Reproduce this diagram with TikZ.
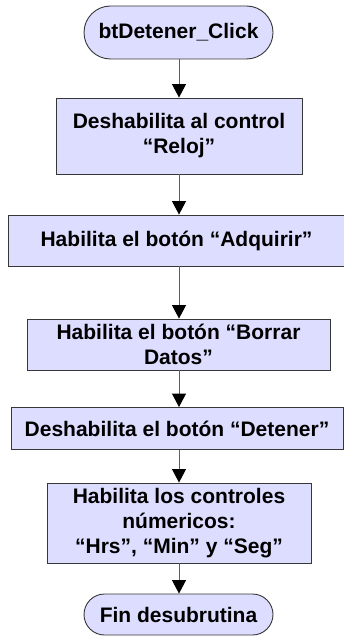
\documentclass[tikz,border=0pt]{standalone}
\usepackage{fontspec}
\setmainfont{Liberation Sans}
\usetikzlibrary{arrows.meta}
\definecolor{boxfill}{RGB}{221,221,255}
\definecolor{linegray}{RGB}{95,95,95}
\definecolor{bordergray}{RGB}{55,55,55}
\tikzset{
  procbox/.style={draw=bordergray, line width=0.9pt, fill=boxfill, rectangle, align=center, inner sep=0pt,
    font=\fontsize{21}{25}\selectfont\bfseries},
  termbox/.style={procbox},
  flowarrow/.style={draw=linegray, line width=1pt, -{Triangle[length=13.5pt,width=14pt,color=black]}}
}
\begin{document}
\begin{tikzpicture}[x=1pt,y=-1pt]
\useasboundingbox (0,0) rectangle (344,636);
\coordinate (spine) at (179,0);
\node[termbox, minimum width=189pt, minimum height=53pt, rounded corners=26.5pt] (start) at (178.5,32.5) {btDetener\_Click};
\node[procbox, minimum width=246pt, minimum height=76pt] (b1) at (179,136) {Deshabilita al control\\“Reloj”};
\node[procbox, minimum width=336pt, minimum height=51pt] (b2) at (176.5,240.5) {Habilita el botón “Adquirir”};
\node[procbox, minimum width=303pt, minimum height=51pt] (b3) at (178.5,344.5) {Habilita el botón “Borrar\\Datos”};
\node[procbox, minimum width=332pt, minimum height=42pt] (b4) at (177,428.5) {Deshabilita el botón “Detener”};
\node[procbox, minimum width=264pt, minimum height=80pt] (b5) at (179,523) {Habilita los controles\\númericos:\\“Hrs”, “Min” y “Seg”};
\node[termbox, minimum width=189pt, minimum height=41pt, rounded corners=20.5pt] (end) at (178.5,614.5) {Fin desubrutina};
\draw[flowarrow] (start.south -| spine) -- (b1.north -| spine);
\draw[flowarrow] (b1.south -| spine) -- (b2.north -| spine);
\draw[flowarrow] (b2.south -| spine) -- (b3.north -| spine);
\draw[flowarrow] (b3.south -| spine) -- (b4.north -| spine);
\draw[flowarrow] (b4.south -| spine) -- (b5.north -| spine);
\draw[flowarrow] (b5.south -| spine) -- (end.north -| spine);
\end{tikzpicture}
\end{document}
